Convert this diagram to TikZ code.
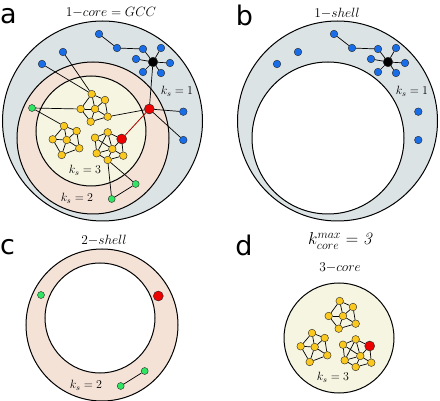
\documentclass[tikz,border=0pt]{standalone}
\usepackage{fontspec}
\newfontfamily\panelfont{DejaVu Sans}
\definecolor{shellgray}{RGB}{220,227,229}
\definecolor{shellpink}{RGB}{244,226,215}
\definecolor{coreyellow}{RGB}{246,245,226}
\definecolor{nodeblue}{RGB}{25,110,232}
\definecolor{nodeyellow}{RGB}{250,200,30}
\definecolor{nodegreen}{RGB}{50,228,100}
\definecolor{nodered}{RGB}{236,0,0}
\definecolor{linkred}{RGB}{165,0,0}
\tikzset{
  ring/.style={draw=black, line width=1pt},
  vtx/.style={circle, draw=black!85, line width=0.4pt, inner sep=0pt, minimum size=7.6pt},
  bnode/.style={vtx, fill=nodeblue},
  ynode/.style={vtx, fill=nodeyellow},
  gnode/.style={vtx, fill=nodegreen, minimum size=7pt},
  rnode/.style={vtx, fill=nodered, minimum size=10pt},
  hub/.style={vtx, fill=black, minimum size=9.6pt},
  link/.style={line width=0.7pt},
  hotlink/.style={line width=0.8pt, draw=linkred},
  tag/.style={inner sep=0pt, font=\large},
  title/.style={inner sep=0pt, font=\large, scale=1.12},
  panel/.style={inner sep=0pt, font=\panelfont\fontsize{27}{30}\selectfont}
}

\begin{document}
\begin{tikzpicture}[x=1pt, y=-1pt]
\useasboundingbox (0,0) rectangle (440,401);
\draw[ring, fill=shellgray] (102.5,121) circle (100pt);
\draw[ring, fill=shellpink] (93,138) circle (76pt);
\draw[ring, fill=coreyellow] (91,131) circle (55pt);
\draw[ring, fill=shellgray] (337.5,121) circle (100pt);
\draw[ring, fill=white] (328,138) circle (76pt);
\draw[ring, fill=shellpink] (102,325) circle (76pt);
\draw[ring, fill=white] (100,318) circle (55pt);
\draw[ring, fill=coreyellow] (339,338) circle (55pt);
\node[panel] (la) at (8.5,16) {a};
\node[panel] (lb) at (244.5,15.5) {b};
\node[panel] (lc) at (7.5,247.5) {c};
\node[panel] (ld) at (244,245) {d};
\node[title] (ta) at (111,12) {$1{-}core = GCC$};
\node[title] (tb) at (337,13) {$1{-}shell$};
\node[title] (tc) at (104,240) {$2{-}shell$};
\node[tag, font=\LARGE] (td) at (340,241) {$k^{max}_{core} = \mathit{3}$};
\node[title] (te) at (340,268) {$3{-}core$};
\foreach \p/\dx in {a/0, b/235} {
\begin{scope}[shift={(\dx,0)}]
\foreach \n/\x/\y in {u1/99/34, u2/117/48, u3/143/49, u4/161/48, u5/136/59, u6/170/63, u7/143/72, u8/161/73, u9/63/52, u10/42/64, u11/183.3/111.7, u12/183.3/140}
  \node[bnode] (\p\n) at (\x,\y) {};
\node[hub] (\p k) at (153,62) {};
\foreach \i in {3,...,8}
  \draw[link] (\p u\i) -- (\p k);
\draw[link] (\p u1) -- (\p u2) -- (\p u3);
\node[tag] (\p ks) at (177,91) {$k_s = 1$};
\end{scope}
}
\foreach \p/\dx/\dy in {a/0/0, c/9/187} {
\begin{scope}[shift={(\dx,\dy)}]
\node[gnode] (\p g1) at (32,108) {};
\node[gnode] (\p g2) at (135.7,184) {};
\node[gnode] (\p g3) at (111.7,199) {};
\node[rnode] (\p r1) at (149.3,109) {};
\draw[link] (\p g2) -- (\p g3);
\node[tag] (\p kt) at (77,198) {$k_s = 2$};
\end{scope}
}
\foreach \p/\dx/\dy in {a/0/0, d/248/207} {
\begin{scope}[shift={(\dx,\dy)}]
\foreach \n/\x/\y in {t1/91.7/94, t2/105/100, t3/80.7/109, t4/95/109, t5/107.7/116.7, t6/90.7/121.7, l1/64/126, l2/76.7/131, l3/52.7/139.3, l4/66.7/140, l5/79.3/148.3, l6/61.7/155, m1/95/137.7, m2/107.7/132.3, m4/112.3/149, m5/96.7/153.3, m6/107.7/160, m7/123.3/155.7}
  \node[ynode] (\p\n) at (\x,\y) {};
\node[rnode] (\p m3) at (121.7,139) {};
\foreach \c in {t,l}
  \foreach \i/\j in {1/2,1/3,1/4,2/4,2/5,3/4,3/6,4/5,4/6,5/6}
    \draw[link] (\p\c\i) -- (\p\c\j);
\foreach \i/\j in {1/2,1/4,1/5,2/3,2/4,2/5,3/4,3/7,4/5,4/6,4/7,5/6,6/7}
  \draw[link] (\p m\i) -- (\p m\j);
\node[tag] (\p kc) at (85,170) {$k_s = 3$};
\end{scope}
}
\draw[link] (ak) -- (ar1);
\draw[link] (ar1) -- (au11);
\draw[link] (ar1) -- (au12);
\draw[link] (ar1) -- (at5);
\draw[hotlink] (ar1) -- (am3);
\draw[link] (ag1) -- (at3);
\draw[link] (ag1) -- (al1);
\draw[link] (au9) -- (at1);
\draw[link] (au10) -- (at1);
\draw[link] (am6) -- (ag3);
\draw[link] (am6) -- (ag2);
\end{tikzpicture}
\end{document}
